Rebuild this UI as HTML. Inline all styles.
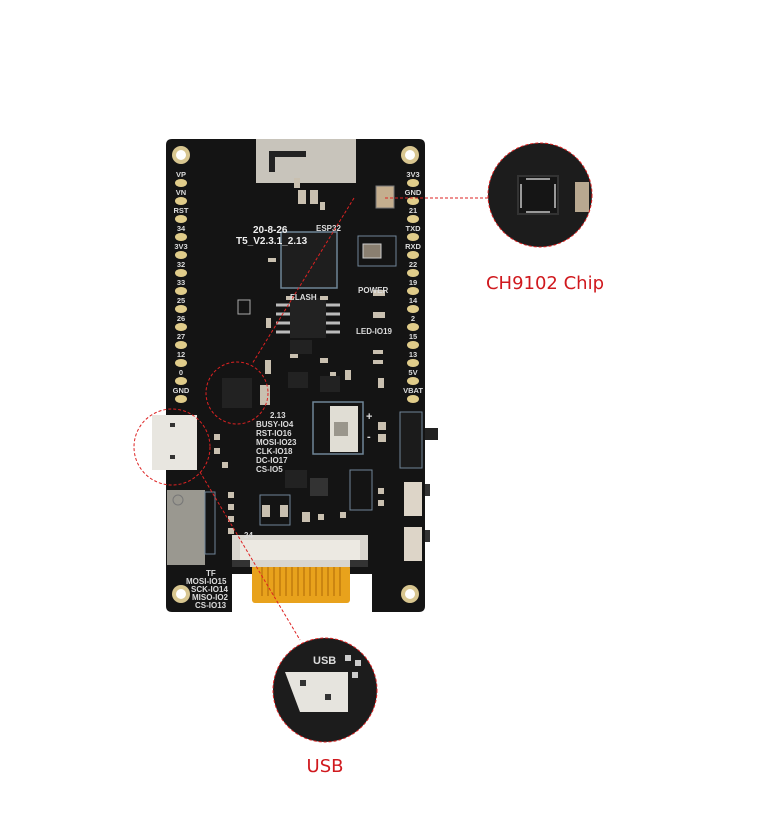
<!DOCTYPE html>
<html><head><meta charset="utf-8"><style>
html,body{margin:0;padding:0;background:#fff;}
svg{display:block}
text{font-family:"Liberation Sans",sans-serif}
</style></head><body>
<svg width="780" height="825" viewBox="0 0 780 825" xmlns="http://www.w3.org/2000/svg">
<rect width="780" height="825" fill="#fff"/>
<rect x="420" y="428" width="18" height="12" fill="#222"/>
<rect x="420" y="484" width="10" height="12" fill="#333"/>
<rect x="420" y="530" width="10" height="12" fill="#333"/>
<path d="M172 139 H419 Q425 139 425 145 V606 Q425 612 419 612 H372 V572 H232 V612 H172 Q166 612 166 606 V145 Q166 139 172 139 Z" fill="#141414"/>
<rect x="232" y="560" width="140" height="14" fill="#141414"/>
<rect x="252" y="565" width="98" height="38" rx="3" fill="#e8a21c"/>
<g stroke="#b8720a" stroke-width="1.2">
<line x1="262" y1="566" x2="262" y2="596"/><line x1="268" y1="566" x2="268" y2="596"/><line x1="274" y1="566" x2="274" y2="596"/><line x1="280" y1="566" x2="280" y2="596"/><line x1="286" y1="566" x2="286" y2="596"/><line x1="292" y1="566" x2="292" y2="596"/><line x1="298" y1="566" x2="298" y2="596"/><line x1="304" y1="566" x2="304" y2="596"/><line x1="310" y1="566" x2="310" y2="596"/><line x1="316" y1="566" x2="316" y2="596"/><line x1="322" y1="566" x2="322" y2="596"/><line x1="328" y1="566" x2="328" y2="596"/><line x1="334" y1="566" x2="334" y2="596"/><line x1="340" y1="566" x2="340" y2="596"/>
</g>
<rect x="232" y="535" width="136" height="32" fill="#d9d6cf"/>
<rect x="240" y="540" width="120" height="20" fill="#ece9e2"/>
<rect x="232" y="560" width="18" height="7" fill="#333"/><rect x="350" y="560" width="18" height="7" fill="#333"/>
<rect x="256" y="139" width="100" height="44" fill="#c8c4bb"/>
<path d="M272 172 V154 H306" stroke="#222" stroke-width="6" fill="none"/>
<g fill="#d8c690"><circle cx="181" cy="155" r="9"/><circle cx="410" cy="155" r="9"/><circle cx="181" cy="594" r="9"/><circle cx="410" cy="594" r="9"/></g>
<g fill="#fff"><circle cx="181" cy="155" r="5"/><circle cx="410" cy="155" r="5"/><circle cx="181" cy="594" r="5"/><circle cx="410" cy="594" r="5"/></g>
<g fill="#e0cc8a">
<ellipse cx="181" cy="183" rx="6" ry="4"/><ellipse cx="181" cy="201" rx="6" ry="4"/><ellipse cx="181" cy="219" rx="6" ry="4"/><ellipse cx="181" cy="237" rx="6" ry="4"/><ellipse cx="181" cy="255" rx="6" ry="4"/><ellipse cx="181" cy="273" rx="6" ry="4"/><ellipse cx="181" cy="291" rx="6" ry="4"/><ellipse cx="181" cy="309" rx="6" ry="4"/><ellipse cx="181" cy="327" rx="6" ry="4"/><ellipse cx="181" cy="345" rx="6" ry="4"/><ellipse cx="181" cy="363" rx="6" ry="4"/><ellipse cx="181" cy="381" rx="6" ry="4"/><ellipse cx="181" cy="399" rx="6" ry="4"/>
<ellipse cx="413" cy="183" rx="6" ry="4"/><ellipse cx="413" cy="201" rx="6" ry="4"/><ellipse cx="413" cy="219" rx="6" ry="4"/><ellipse cx="413" cy="237" rx="6" ry="4"/><ellipse cx="413" cy="255" rx="6" ry="4"/><ellipse cx="413" cy="273" rx="6" ry="4"/><ellipse cx="413" cy="291" rx="6" ry="4"/><ellipse cx="413" cy="309" rx="6" ry="4"/><ellipse cx="413" cy="327" rx="6" ry="4"/><ellipse cx="413" cy="345" rx="6" ry="4"/><ellipse cx="413" cy="363" rx="6" ry="4"/><ellipse cx="413" cy="381" rx="6" ry="4"/><ellipse cx="413" cy="399" rx="6" ry="4"/>
</g>
<g fill="#dcdcdc" font-size="7.5" font-weight="bold" text-anchor="middle">
<text x="181" y="177">VP</text><text x="181" y="195">VN</text><text x="181" y="213">RST</text><text x="181" y="231">34</text><text x="181" y="249">3V3</text><text x="181" y="267">32</text><text x="181" y="285">33</text><text x="181" y="303">25</text><text x="181" y="321">26</text><text x="181" y="339">27</text><text x="181" y="357">12</text><text x="181" y="375">0</text><text x="181" y="393">GND</text>
<text x="413" y="177">3V3</text><text x="413" y="195">GND</text><text x="413" y="213">21</text><text x="413" y="231">TXD</text><text x="413" y="249">RXD</text><text x="413" y="267">22</text><text x="413" y="285">19</text><text x="413" y="303">14</text><text x="413" y="321">2</text><text x="413" y="339">15</text><text x="413" y="357">13</text><text x="413" y="375">5V</text><text x="413" y="393">VBAT</text>
</g>
<rect x="281" y="232" width="56" height="56" fill="#1e1e1e" stroke="#6f8597" stroke-width="1.5"/>
<rect x="290" y="298" width="36" height="40" fill="#222"/>
<g stroke="#bbb" stroke-width="3"><line x1="276" y1="305" x2="290" y2="305"/><line x1="276" y1="314" x2="290" y2="314"/><line x1="276" y1="323" x2="290" y2="323"/><line x1="276" y1="332" x2="290" y2="332"/><line x1="326" y1="305" x2="340" y2="305"/><line x1="326" y1="314" x2="340" y2="314"/><line x1="326" y1="323" x2="340" y2="323"/><line x1="326" y1="332" x2="340" y2="332"/></g>
<rect x="358" y="236" width="38" height="30" fill="none" stroke="#6f8597"/>
<rect x="363" y="244" width="18" height="14" fill="#8a7f70" stroke="#ccc"/>
<rect x="376" y="186" width="18" height="22" fill="#c4ae8e" stroke="#777"/>
<rect x="222" y="378" width="30" height="30" fill="#222"/>
<rect x="238" y="300" width="12" height="14" fill="none" stroke="#aaa" stroke-width="1"/>
<g fill="#c9c0b0"><rect x="298" y="190" width="8" height="14"/><rect x="310" y="190" width="8" height="14"/><rect x="373" y="290" width="12" height="6"/><rect x="373" y="312" width="12" height="6"/><rect x="260" y="385" width="10" height="20"/><rect x="340" y="420" width="6" height="6"/>
<rect x="294" y="178" width="6" height="10"/><rect x="320" y="202" width="5" height="8"/><rect x="268" y="258" width="8" height="4"/><rect x="286" y="296" width="8" height="4"/><rect x="320" y="296" width="8" height="4"/>
<rect x="266" y="318" width="5" height="10"/><rect x="265" y="360" width="6" height="14"/><rect x="290" y="352" width="8" height="6"/><rect x="320" y="358" width="8" height="5"/><rect x="330" y="372" width="6" height="10"/><rect x="345" y="370" width="6" height="10"/>
<rect x="373" y="350" width="10" height="4"/><rect x="373" y="360" width="10" height="4"/><rect x="378" y="378" width="6" height="10"/><rect x="378" y="422" width="8" height="8"/><rect x="378" y="434" width="8" height="8"/>
<rect x="262" y="505" width="8" height="12"/><rect x="280" y="505" width="8" height="12"/><rect x="302" y="512" width="8" height="10"/><rect x="318" y="514" width="6" height="6"/><rect x="340" y="512" width="6" height="6"/><rect x="378" y="488" width="6" height="6"/><rect x="378" y="500" width="6" height="6"/>
<rect x="228" y="492" width="6" height="6"/><rect x="228" y="504" width="6" height="6"/><rect x="228" y="516" width="6" height="6"/><rect x="228" y="528" width="6" height="6"/>
<rect x="214" y="434" width="6" height="6"/><rect x="214" y="448" width="6" height="6"/><rect x="222" y="462" width="6" height="6"/>
</g>
<rect x="290" y="340" width="22" height="14" fill="#222"/>
<rect x="288" y="372" width="20" height="16" fill="#222"/><rect x="320" y="376" width="20" height="16" fill="#222"/>
<rect x="285" y="470" width="22" height="18" fill="#222"/>
<rect x="350" y="470" width="22" height="40" fill="none" stroke="#6f8597"/>
<rect x="260" y="495" width="30" height="30" fill="none" stroke="#6f8597"/>
<rect x="313" y="402" width="50" height="52" fill="none" stroke="#6f8597" stroke-width="1.5"/>
<rect x="330" y="406" width="28" height="46" fill="#e0ddd4"/>
<rect x="334" y="422" width="14" height="14" fill="#9a968c"/>
<rect x="400" y="412" width="22" height="56" fill="#1b1b1b" stroke="#6f8597"/>
<rect x="404" y="482" width="18" height="34" fill="#ddd5c8"/>
<rect x="404" y="527" width="18" height="34" fill="#ddd5c8"/>
<rect x="310" y="478" width="18" height="18" fill="#333"/>
<rect x="152" y="415" width="45" height="55" fill="#e8e6e0"/>
<rect x="170" y="423" width="5" height="4" fill="#333"/><rect x="170" y="455" width="5" height="4" fill="#333"/>
<rect x="167" y="490" width="38" height="75" fill="#9a9890"/>
<circle cx="178" cy="500" r="5" fill="none" stroke="#777"/>
<rect x="205" y="492" width="10" height="62" fill="none" stroke="#6f8597"/>
<g fill="#dcdcdc" font-size="8" font-weight="bold">
<text x="253" y="233" font-size="10" fill="#eee">20-8-26</text>
<text x="236" y="244" font-size="10" fill="#eee">T5_V2.3.1_2.13</text>
<text x="316" y="231">ESP32</text>
<text x="290" y="300">FLASH</text>
<text x="358" y="293">POWER</text>
<text x="356" y="334">LED-IO19</text>
<text x="270" y="418">2.13</text>
<text x="256" y="427">BUSY-IO4</text>
<text x="256" y="436">RST-IO16</text>
<text x="256" y="445">MOSI-IO23</text>
<text x="256" y="454">CLK-IO18</text>
<text x="256" y="463">DC-IO17</text>
<text x="256" y="472">CS-IO5</text>
<text x="206" y="576">TF</text>
<text x="186" y="584">MOSI-IO15</text>
<text x="191" y="592">SCK-IO14</text>
<text x="192" y="600">MISO-IO2</text>
<text x="195" y="608">CS-IO13</text>
<text x="244" y="538">24</text>
<text x="366" y="420" font-size="11">+</text>
<text x="367" y="440" font-size="11">-</text>
</g>
<circle cx="540" cy="195" r="52" fill="#1c1c1c"/>
<rect x="518" y="176" width="40" height="38" fill="#151515" stroke="#333" stroke-width="2"/>
<g fill="#999"><rect x="526" y="178" width="24" height="2"/><rect x="526" y="211" width="24" height="2"/><rect x="520" y="184" width="2" height="24"/><rect x="554" y="184" width="2" height="24"/></g>
<rect x="575" y="182" width="14" height="30" fill="#b8a890"/>
<circle cx="540" cy="195" r="52" fill="none" stroke="#d22" stroke-width="1" stroke-dasharray="3,2"/>
<circle cx="325" cy="690" r="52" fill="#1c1c1c"/>
<path d="M285 672 H348 V712 H300 Z" fill="#e6e4de"/>
<rect x="300" y="680" width="6" height="6" fill="#333"/><rect x="325" y="694" width="6" height="6" fill="#333"/>
<g fill="#ccc"><rect x="345" y="655" width="6" height="6"/><rect x="355" y="660" width="6" height="6"/><rect x="352" y="672" width="6" height="6"/></g>
<circle cx="325" cy="690" r="52" fill="none" stroke="#d22" stroke-width="1" stroke-dasharray="3,2"/>
<text x="313" y="664" fill="#ddd" font-size="11" font-weight="bold">USB</text>
<g stroke="#d22" stroke-width="1" fill="none" stroke-dasharray="3,2">
<line x1="385" y1="198" x2="488" y2="198"/>
<line x1="354" y1="198" x2="252" y2="364"/>
<circle cx="237" cy="393" r="31"/>
<circle cx="172" cy="447" r="38"/>
<line x1="200" y1="472" x2="300" y2="640"/>
</g>
<text x="545" y="289" fill="#d0191e" font-size="18" text-anchor="middle" style="font-family:'DejaVu Sans',sans-serif">CH9102 Chip</text>
<text x="325" y="772" fill="#d0191e" font-size="18" text-anchor="middle" style="font-family:'DejaVu Sans',sans-serif">USB</text>
</svg>
</body></html>
